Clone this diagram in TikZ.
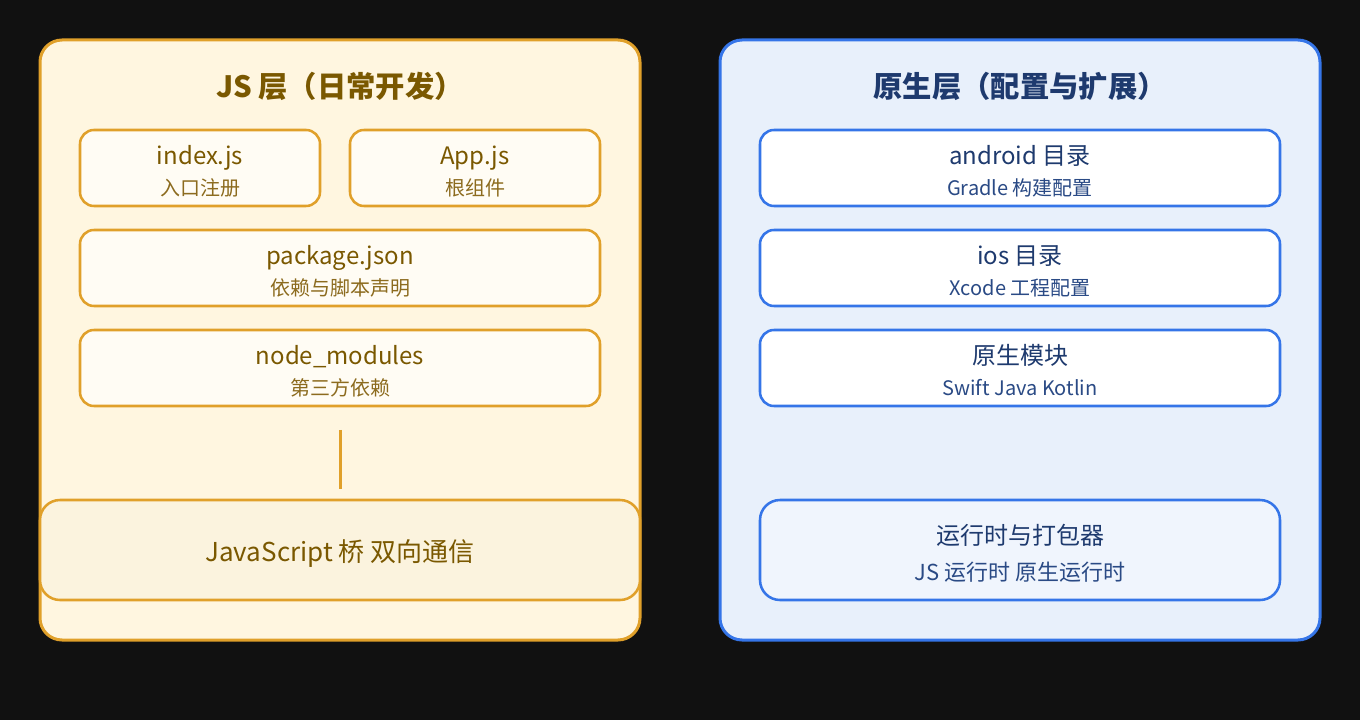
\documentclass[tikz,border=0pt]{standalone}
\usepackage{fontspec}
\setmainfont{Noto Sans CJK SC}
\usepackage{tikz}

\definecolor{bgdark}{HTML}{111111}
\definecolor{jsedge}{HTML}{E0A02A}
\definecolor{jspanel}{HTML}{FFF6E0}
\definecolor{jscard}{HTML}{FFFCF4}
\definecolor{jsbridge}{HTML}{FBF3DE}
\definecolor{jstext}{HTML}{7A5800}
\definecolor{jssub}{HTML}{8C6B1E}
\definecolor{nvedge}{HTML}{3575E8}
\definecolor{nvpanel}{HTML}{E8F0FB}
\definecolor{nvcard}{HTML}{FFFFFF}
\definecolor{nvrun}{HTML}{F0F5FD}
\definecolor{nvtext}{HTML}{1E3A6E}
\definecolor{nvsub}{HTML}{2A4A85}

\newcommand{\topstrut}{\rule{0pt}{24pt}}
\newcommand{\jssubtext}[1]{{\fontsize{15}{18}\selectfont\color{jssub}#1\rule[-6pt]{0pt}{6pt}}}
\newcommand{\nvsubtext}[1]{{\fontsize{15}{18}\selectfont\color{nvsub}#1\rule[-6pt]{0pt}{6pt}}}

\begin{document}
\begin{tikzpicture}[x=0.75pt, y=-0.75pt,
    every node/.style={align=center, inner sep=0pt, font=\fontsize{18}{23.25}\selectfont},
    jscard/.style={draw=jsedge, fill=jscard, line width=1.9pt, rounded corners=10.5pt, text=jstext, minimum height=57pt},
    nvcard/.style={draw=nvedge, fill=nvcard, line width=1.9pt, rounded corners=10.5pt, text=nvtext, minimum height=57pt},
    title/.style={font=\fontsize{22}{26}\selectfont\bfseries}]
    % background and panels
    \fill[bgdark] (0,0) rectangle (1360,720);
    \draw[draw=jsedge, fill=jspanel, line width=2.25pt, rounded corners=16.5pt] (40,40) rectangle (640,640);
    \draw[draw=nvedge, fill=nvpanel, line width=2.25pt, rounded corners=16.5pt] (720,40) rectangle (1320,640);

    \node[title, text=jstext] (jstitle) at (340,86) {JS 层（日常开发）};
    \node[title, text=nvtext] (nvtitle) at (1020,86) {原生层（配置与扩展）};

    % JS side
    \node[jscard, minimum width=180pt] (index) at (200,168) {\topstrut index.js\\\jssubtext{入口注册}};
    \node[jscard, minimum width=187.5pt] (app) at (475,168) {\topstrut App.js\\\jssubtext{根组件}};
    \node[jscard, minimum width=390pt] (package) at (340,268) {\topstrut package.json\\\jssubtext{依赖与脚本声明}};
    \node[jscard, minimum width=390pt] (nodemodules) at (340,368) {\topstrut node\_modules\\\jssubtext{第三方依赖}};
    \node[jscard, fill=jsbridge, minimum width=450pt, minimum height=75pt, rounded corners=15pt,
          font=\fontsize{19.5}{23}\selectfont] (bridge) at (340,550) {\rule{0pt}{21pt}JavaScript 桥 双向通信};

    \draw[jsedge, line width=2.25pt, shorten <=17pt, shorten >=7.5pt] (nodemodules) -- (bridge);

    % native side
    \node[nvcard, minimum width=390pt] (android) at (1020,168) {\topstrut android 目录\\\nvsubtext{Gradle 构建配置}};
    \node[nvcard, minimum width=390pt] (ios) at (1020,268) {\topstrut ios 目录\\\nvsubtext{Xcode 工程配置}};
    \node[nvcard, minimum width=390pt] (nativemod) at (1020,368) {\topstrut 原生模块\\\nvsubtext{Swift Java Kotlin}};
    \node[nvcard, fill=nvrun, minimum width=390pt, minimum height=75pt, rounded corners=15pt,
          font=\fontsize{18}{27}\selectfont] (runtime) at (1020,550) {\topstrut 运行时与打包器\\{\fontsize{16.5}{18}\selectfont\color{nvsub}JS 运行时 原生运行时\rule[-6pt]{0pt}{6pt}}};
\end{tikzpicture}
\end{document}
